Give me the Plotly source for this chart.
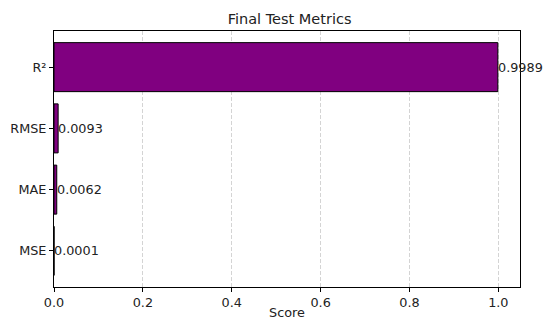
import plotly.graph_objects as go

metrics = ["MSE", "MAE", "RMSE", "R²"]
scores = [0.0001, 0.0062, 0.0093, 0.9989]
x_ticks = [0.0, 0.2, 0.4, 0.6, 0.8, 1.0]
x_tick_labels = ["0.0", "0.2", "0.4", "0.6", "0.8", "1.0"]

FONT = "DejaVu Sans"

fig = go.Figure()
fig.add_trace(go.Bar(
    x=scores,
    y=list(range(len(metrics))),
    orientation="h",
    width=0.8,
    marker=dict(color="#800080", line=dict(color="black", width=1)),
    hoverinfo="skip",
))

for i, v in enumerate(scores):
    fig.add_annotation(
        x=v, y=i, xref="x", yref="y",
        text=f"{v:.4f}", showarrow=False,
        xanchor="left", yanchor="middle", xshift=-2,
        font=dict(family=FONT, size=12.8, color="#222"),
    )

fig.update_layout(
    width=545, height=320,
    margin=dict(l=54, r=25, t=31, b=33, autoexpand=False),
    paper_bgcolor="white", plot_bgcolor="white",
    showlegend=False,
    font=dict(family=FONT, size=12.8, color="#222"),
    title=dict(text="Final Test Metrics", x=0.5055, xanchor="center",
               y=1 - 19 / 320, yanchor="middle", xref="paper",
               font=dict(family=FONT, size=14.5, color="#222")),
    xaxis=dict(
        range=[0, 1.0488], tickvals=x_ticks, ticktext=x_tick_labels,
        showgrid=True, gridcolor="#d4d4d4", griddash="4px,2px", gridwidth=0.8,
        zeroline=False, showline=True, linecolor="black", linewidth=1, mirror=True,
        ticks="outside", ticklen=4, tickcolor="black",
        title=dict(text="Score", standoff=3, font=dict(family=FONT, size=12.8)),
        tickfont=dict(family=FONT, size=12.8),
    ),
    yaxis=dict(
        range=[-0.59, 3.59], tickvals=list(range(len(metrics))), ticktext=metrics,
        showgrid=False, zeroline=False, showline=True, linecolor="black", linewidth=1,
        mirror=True, ticks="outside", ticklen=4, tickcolor="black",
        tickfont=dict(family=FONT, size=12.8),
    ),
)

fig.write_html(
    "out.html",
    config={"displayModeBar": False},
    post_script="document.body.style.margin='0';document.body.style.padding='0';",
)
